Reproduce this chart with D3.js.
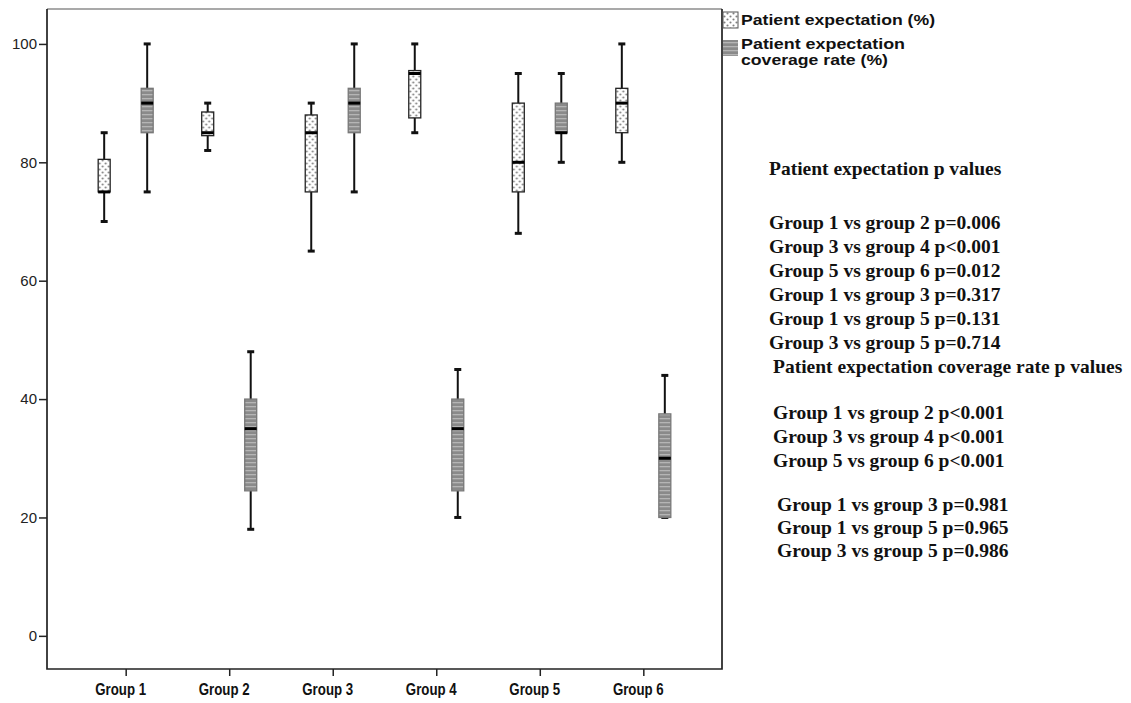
<!DOCTYPE html>
<html>
<head>
<meta charset="utf-8">
<script src="https://cdn.jsdelivr.net/npm/d3@7"></script>
<style>
  html, body { margin: 0; padding: 0; background: #fff; }
  svg { display: block; }
</style>
</head>
<body>
<svg id="chart" width="1131" height="703"></svg>
<script>
// ---------------- data ----------------
const groups = ["Group 1", "Group 2", "Group 3", "Group 4", "Group 5", "Group 6"];
const seriesNames = ["Patient expectation (%)", "Patient expectation coverage rate (%)"];
const yTicks = [0, 20, 40, 60, 80, 100];

const peMin = [70, 82, 65, 85, 68, 80];
const peQ1  = [75, 84.5, 75, 87.5, 75, 85];
const peMed = [75, 85, 85, 95, 80, 90];
const peQ3  = [80.5, 88.5, 88, 95.5, 90, 92.5];
const peMax = [85, 90, 90, 100, 95, 100];

const covMin = [75, 18, 75, 20, 80, 20];
const covQ1  = [85, 24.5, 85, 24.5, 85, 20];
const covMed = [90, 35, 90, 35, 85, 30];
const covQ3  = [92.5, 40, 92.5, 40, 90, 37.5];
const covMax = [100, 48, 100, 45, 95, 44];

const peLines = [
  "Group 1 vs group 2 p=0.006",
  "Group 3 vs group 4 p<0.001",
  "Group 5 vs group 6 p=0.012",
  "Group 1 vs group 3 p=0.317",
  "Group 1 vs group 5 p=0.131",
  "Group 3 vs group 5 p=0.714"
];
const covLinesA = [
  "Group 1 vs group 2 p<0.001",
  "Group 3 vs group 4 p<0.001",
  "Group 5 vs group 6 p<0.001"
];
const covLinesB = [
  "Group 1 vs group 3 p=0.981",
  "Group 1 vs group 5 p=0.965",
  "Group 3 vs group 5 p=0.986"
];

// ---------------- layout ----------------
const svg = d3.select("#chart");
const L = 47, R = 722, T = 9, B = 669;

const x = d3.scalePoint().domain(groups).range([L, R]).padding(0.76);
const sub = d3.scalePoint().domain(["pe", "cov"]).range([-21.5, 21.5]);
const y = d3.scaleLinear().domain([-5.6, 105.9]).range([B, T]);

// patterns
const defs = svg.append("defs");
const dots = defs.append("pattern").attr("id", "dots")
  .attr("patternUnits", "userSpaceOnUse").attr("width", 6).attr("height", 6);
dots.append("rect").attr("width", 6).attr("height", 6).attr("fill", "#fff");
dots.append("circle").attr("cx", 1.5).attr("cy", 1.5).attr("r", 1.05).attr("fill", "#808080");
dots.append("circle").attr("cx", 4.5).attr("cy", 4.5).attr("r", 1.05).attr("fill", "#808080");

const stripes = defs.append("pattern").attr("id", "stripes")
  .attr("patternUnits", "userSpaceOnUse").attr("width", 4).attr("height", 4);
stripes.append("rect").attr("width", 4).attr("height", 4).attr("fill", "#8a8a8a");
stripes.append("rect").attr("y", 2).attr("width", 4).attr("height", 1.3).attr("fill", "#b5b5b5");

// frame
svg.append("line").attr("x1", L).attr("x2", R).attr("y1", T).attr("y2", T)
  .attr("stroke", "#555").attr("stroke-width", 1.2);
svg.append("path").attr("d", `M${R},${T}V${B}H${L}V${T}`)
  .attr("fill", "none").attr("stroke", "#222").attr("stroke-width", 1.7);

// y axis
const yAxis = d3.axisLeft(y).tickValues(yTicks).tickSize(8).tickPadding(2).tickFormat(d3.format("d"));
const gy = svg.append("g").attr("transform", `translate(${L},0)`).call(yAxis);
gy.select(".domain").remove();
gy.selectAll(".tick line").attr("stroke", "#222").attr("stroke-width", 1.5);
gy.selectAll(".tick text").attr("font-family", "Liberation Sans, Arial, sans-serif")
  .attr("font-size", 15).attr("fill", "#222");

// x axis
const xAxis = d3.axisBottom(x).tickSize(7).tickPadding(8);
const gx = svg.append("g").attr("transform", `translate(0,${B})`).call(xAxis);
gx.select(".domain").remove();
gx.selectAll(".tick line").attr("stroke", "#222").attr("stroke-width", 1.5);
gx.selectAll(".tick text").attr("font-family", "Liberation Sans, Arial, sans-serif")
  .attr("font-size", 16).attr("font-weight", "bold").attr("fill", "#111")
  .attr("transform", "translate(-5.5,0) scale(0.83,1)");

// boxes
const boxes = [];
groups.forEach((g, i) => {
  boxes.push({g, s: "pe", min: peMin[i], q1: peQ1[i], med: peMed[i], q3: peQ3[i], max: peMax[i]});
  boxes.push({g, s: "cov", min: covMin[i], q1: covQ1[i], med: covMed[i], q3: covQ3[i], max: covMax[i]});
});
const bw = 12, capW = 7;
const bg = svg.append("g").selectAll("g").data(boxes).join("g")
  .attr("transform", d => `translate(${x(d.g) + sub(d.s)},0)`);

bg.append("line").attr("x1", 0).attr("x2", 0)
  .attr("y1", d => y(d.max)).attr("y2", d => y(d.min))
  .attr("stroke", "#111").attr("stroke-width", 2);
bg.append("line").attr("x1", -capW / 2).attr("x2", capW / 2)
  .attr("y1", d => y(d.max)).attr("y2", d => y(d.max))
  .attr("stroke", "#111").attr("stroke-width", 3);
bg.append("line").attr("x1", -capW / 2).attr("x2", capW / 2)
  .attr("y1", d => y(d.min)).attr("y2", d => y(d.min))
  .attr("stroke", "#111").attr("stroke-width", 3);
bg.append("rect").attr("x", -bw / 2).attr("width", bw)
  .attr("y", d => y(d.q3)).attr("height", d => y(d.q1) - y(d.q3))
  .attr("fill", d => d.s === "pe" ? "url(#dots)" : "url(#stripes)")
  .attr("stroke", d => d.s === "pe" ? "#222" : "#777").attr("stroke-width", 1.3);
bg.append("line").attr("x1", -bw / 2).attr("x2", bw / 2)
  .attr("y1", d => y(d.med)).attr("y2", d => y(d.med))
  .attr("stroke", "#000").attr("stroke-width", 3);

// legend
const lg = svg.append("g");
const legendFill = ["url(#dots)", "url(#stripes)"];
const legendY = [12, 40];
lg.selectAll("rect").data(seriesNames).join("rect")
  .attr("x", R + 1).attr("y", (d, i) => legendY[i]).attr("width", 15).attr("height", 16)
  .attr("fill", (d, i) => legendFill[i])
  .attr("stroke", (d, i) => i === 0 ? "#555" : "none").attr("stroke-width", 1);
const legendTexts = [
  {t: "Patient expectation (%)", y: 25, w: 194},
  {t: "Patient expectation", y: 49, w: 164},
  {t: "coverage rate (%)", y: 65, w: 147}
];
lg.selectAll("text").data(legendTexts).join("text")
  .attr("x", R + 19).attr("y", d => d.y)
  .attr("font-family", "Liberation Sans, Arial, sans-serif")
  .attr("font-size", 15.5).attr("font-weight", "bold").attr("fill", "#111")
  .attr("textLength", d => d.w).attr("lengthAdjust", "spacingAndGlyphs")
  .text(d => d.t);

// p-value annotations
const ann = svg.append("g").attr("font-family", "Liberation Serif, 'Times New Roman', serif")
  .attr("font-weight", "bold").attr("font-size", 19.5).attr("fill", "#111");
ann.append("text").attr("x", 769).attr("y", 175).text("Patient expectation p values");
ann.selectAll(".pe").data(peLines).join("text").attr("class", "pe")
  .attr("x", 769).attr("y", (d, i) => 229 + i * 24).text(d => d);
ann.append("text").attr("x", 773).attr("y", 373).text("Patient expectation coverage rate p values");
ann.selectAll(".ca").data(covLinesA).join("text").attr("class", "ca")
  .attr("x", 773).attr("y", (d, i) => 419 + i * 24).text(d => d);
ann.selectAll(".cb").data(covLinesB).join("text").attr("class", "cb")
  .attr("x", 777).attr("y", (d, i) => 511 + i * 23).text(d => d);
</script>
</body>
</html>
